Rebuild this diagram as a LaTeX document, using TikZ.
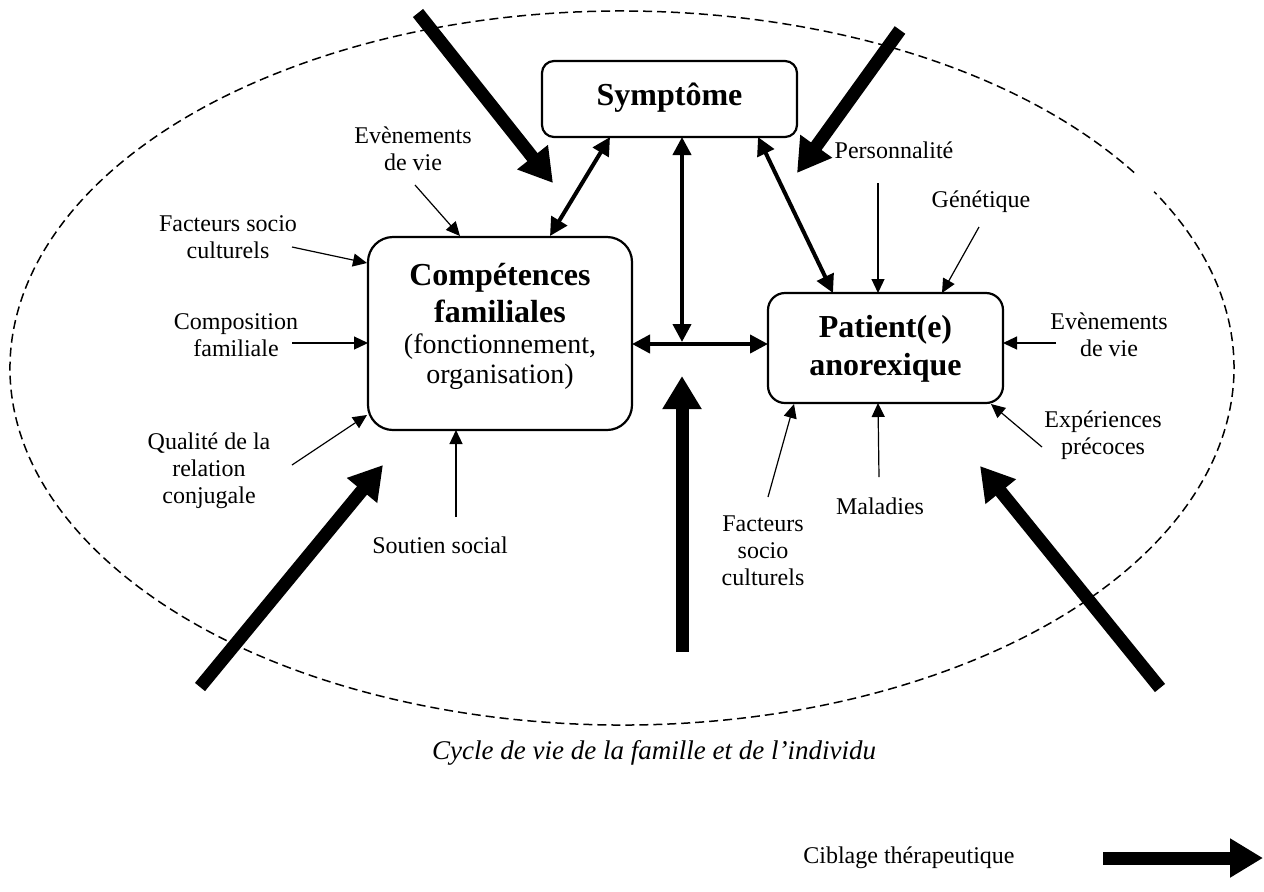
\documentclass[tikz,border=0pt]{standalone}
\usepackage{fontspec}
\setmainfont{Liberation Serif}
\usetikzlibrary{arrows.meta}
\begin{document}
\begin{tikzpicture}[x=0.5pt,y=-0.5pt,
  box/.style={draw,line width=1.1pt,rounded corners=#1,inner sep=0pt},
  lbl/.style={font=\fontsize{12}{13.5}\selectfont,align=center,inner sep=0pt},
  btxt/.style={font=\fontsize{16}{19}\selectfont\bfseries,anchor=base,inner sep=0pt},
  ptxt/.style={font=\fontsize{14}{16}\selectfont,anchor=base,inner sep=0pt},
  thinarr/.style={line width=0.6pt,-{Triangle[length=7pt,width=6.5pt]}},
  medarr/.style={line width=2pt,{Triangle[length=9pt,width=9pt]}-{Triangle[length=9pt,width=9pt]}},
  bigarr/.style={line width=6.5pt,-{Triangle[length=16.5pt,width=18.5pt]}},
  ring/.style={line width=0.75pt,dash pattern=on 4.5pt off 2.5pt}]
\useasboundingbox (0,0) rectangle (1264,891);

% dashed life-cycle ellipse (with a small break at the upper right)
\coordinate (ec) at (622,368);
\draw[ring] ([shift={(33.2:306pt and 178.5pt)}]ec)
  arc[start angle=33.2,end angle=389.6,x radius=306pt,y radius=178.5pt];

% main boxes
\node[box=6pt,minimum width=127.5pt,minimum height=38pt] (sym) at (669.5,99) {};
\node[btxt] (symT) at (669.5,105) {Symptôme};

\node[box=12.5pt,minimum width=132pt,minimum height=96.5pt] (comp) at (500,333.5) {};
\node[btxt] (compT1) at (500,285) {Compétences};
\node[btxt] (compT2) at (500,322) {familiales};
\node[ptxt] (compT3) at (500,353) {(fonctionnement,};
\node[ptxt] (compT4) at (500,383) {organisation)};

\node[box=8.5pt,minimum width=117.5pt,minimum height=55pt] (pat) at (885.5,348) {};
\node[btxt] (patT1) at (885.5,337) {Patient(e)};
\node[btxt] (patT2) at (885.5,375) {anorexique};

% links between the three boxes
\coordinate (cs1) at (550,236);  \coordinate (cs2) at (610,137);
\coordinate (sp1) at (758,137);  \coordinate (sp2) at (833,293);
\coordinate (v1) at (682,137);   \coordinate (v2) at (682,342);
\coordinate (h1) at (632,344);   \coordinate (h2) at (768,344);
\draw[medarr] (cs1) -- (cs2);
\draw[medarr] (sp1) -- (sp2);
\draw[medarr] (v1) -- (v2);
\draw[medarr] (h1) -- (h2);

% family factors
\node[lbl] (evL) at (413,149) {Evènements\\de vie};
\node[lbl] (fscL) at (228,237) {Facteurs socio\\culturels};
\node[lbl] (compo) at (236,335) {Composition\\familiale};
\node[lbl] (qual) at (209,471) {Qualité de la\\relation\\conjugale};
\node[lbl] (sout) at (440,545) {Soutien social};

\coordinate (a1) at (415,185); \coordinate (b1) at (460,236);
\coordinate (a2) at (292,247); \coordinate (b2) at (367,263);
\coordinate (a3) at (292,343); \coordinate (b3) at (368,343);
\coordinate (a4) at (292,465); \coordinate (b4) at (367,415);
\coordinate (a5) at (456,517); \coordinate (b5) at (456,430);
\draw[thinarr] (a1) -- (b1);
\draw[thinarr] (a2) -- (b2);
\draw[thinarr] (a3) -- (b3);
\draw[thinarr] (a4) -- (b4);
\draw[thinarr] (a5) -- (b5);

% individual factors
\node[lbl] (perso) at (894,150) {Personnalité};
\node[lbl] (genet) at (981,202) {Génétique};
\node[lbl] (evR) at (1109,335) {Evènements\\de vie};
\node[lbl] (exper) at (1103,435) {Expériences\\précoces};
\node[lbl] (malad) at (880,506) {Maladies};
\node[lbl] (fscB) at (763,551) {Facteurs\\socio\\culturels};

\coordinate (a6) at (878,183);  \coordinate (b6) at (878,293);
\coordinate (a7) at (979,227);  \coordinate (b7) at (942,293);
\coordinate (a8) at (1056,343); \coordinate (b8) at (1003,343);
\coordinate (a9) at (1042,447); \coordinate (b9) at (991,404);
\coordinate (a10) at (879,477); \coordinate (b10) at (878,403);
\coordinate (a11) at (768,497); \coordinate (b11) at (794,404);
\draw[thinarr] (a6) -- (b6);
\draw[thinarr] (a7) -- (b7);
\draw[thinarr] (a8) -- (b8);
\draw[thinarr] (a9) -- (b9);
\draw[thinarr] (a10) -- (b10);
\draw[thinarr] (a11) -- (b11);

% therapeutic targeting arrows
\coordinate (tlA) at (418,13);   \coordinate (tlB) at (553,183);
\coordinate (trA) at (900,30);   \coordinate (trB) at (797,173);
\coordinate (blA) at (200,687);  \coordinate (blB) at (383,465);
\coordinate (bcA) at (682,652);  \coordinate (bcB) at (682,376);
\coordinate (brA) at (1160,688); \coordinate (brB) at (980,466);
\draw[bigarr] (tlA) -- (tlB);
\draw[bigarr] (trA) -- (trB);
\draw[bigarr] (blA) -- (blB);
\draw[bigarr] (bcA) -- (bcB);
\draw[bigarr] (brA) -- (brB);

% caption and legend
\node[font=\fontsize{13.5}{15}\selectfont\itshape,inner sep=0pt] (cyc) at (654,753)
  {Cycle de vie de la famille et de l’individu};
\node[lbl,anchor=east] (cib) at (1015,858) {Ciblage thérapeutique};
\coordinate (lg1) at (1103,858); \coordinate (lg2) at (1263,858);
\draw[bigarr] (lg1) -- (lg2);
\end{tikzpicture}
\end{document}
